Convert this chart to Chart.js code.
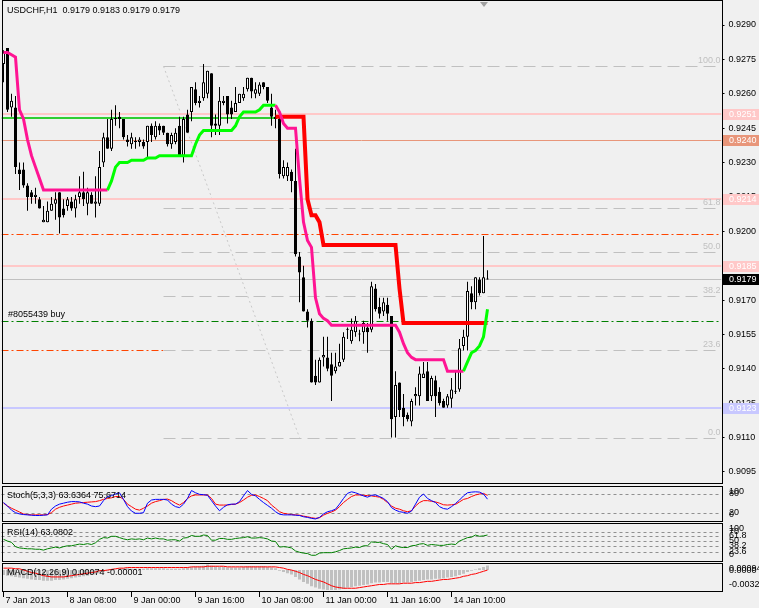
<!DOCTYPE html>
<html>
<head>
<meta charset="utf-8">
<script src="https://cdn.jsdelivr.net/npm/chart.js@4.4.1/dist/chart.umd.min.js"></script>
<style>
html, body { margin: 0; padding: 0; background: #f0f0f0; }
#wrap { position: relative; width: 759px; height: 608px; overflow: hidden; background: #f0f0f0; }
canvas { position: absolute; left: 0; }
</style>
</head>
<body>
<div id="wrap">
  <canvas id="main" width="759" height="485" style="top:0px"></canvas>
  <canvas id="stoch" width="759" height="38" style="top:485px"></canvas>
  <canvas id="rsi" width="759" height="41" style="top:522px"></canvas>
  <canvas id="macd" width="759" height="46" style="top:562px"></canvas>
</div>
<script>
// USDCHF H1, 122 bars, plus empty shift space on the right
const symbolTitle = 'USDCHF,H1  0.9179 0.9183 0.9179 0.9179';

const open = [0.9273,0.9280,0.9254,0.9254,0.9227,0.9227,0.9220,0.9217,0.9215,0.9214,
  0.9204,0.9204,0.9209,0.9212,0.9217,0.9210,0.9211,0.9213,0.9210,0.9215,
  0.9217,0.9212,0.9216,0.9212,0.9212,0.9230,0.9241,0.9236,0.9249,0.9250,
  0.9249,0.9240,0.9238,0.9239,0.9239,0.9239,0.9239,0.9246,0.9241,0.9246,
  0.9246,0.9243,0.9238,0.9239,0.9246,0.9233,0.9251,0.9252,0.9262,0.9256,
  0.9258,0.9260,0.9269,0.9247,0.9246,0.9256,0.9259,0.9254,0.9252,0.9256,
  0.9258,0.9262,0.9267,0.9260,0.9260,0.9265,0.9263,0.9254,0.9250,0.9249,
  0.9224,0.9224,0.9226,0.9222,0.9189,0.9180,0.9165,0.9161,0.9137,0.9134,
  0.9145,0.9145,0.9142,0.9139,0.9141,0.9144,0.9157,0.9152,0.9156,0.9155,
  0.9156,0.9158,0.9157,0.9175,0.9167,0.9165,0.9168,0.9163,0.9119,0.9134,
  0.9123,0.9120,0.9117,0.9128,0.9128,0.9136,0.9139,0.9128,0.9135,0.9130,
  0.9126,0.9124,0.9127,0.9130,0.9131,0.9150,0.9154,0.9173,0.9169,0.9179,
  0.9173,0.9179];
const high = [0.9279,0.9280,0.9260,0.9259,0.9230,0.9230,0.9221,0.9218,0.9219,0.9215,
  0.9211,0.9213,0.9215,0.9217,0.9217,0.9214,0.9215,0.9215,0.9216,0.9224,
  0.9226,0.9219,0.9217,0.9224,0.9235,0.9243,0.9249,0.9253,0.9255,0.9252,
  0.9249,0.9242,0.9243,0.9241,0.9241,0.9240,0.9246,0.9247,0.9248,0.9247,
  0.9246,0.9243,0.9243,0.9245,0.9250,0.9250,0.9253,0.9263,0.9265,0.9259,
  0.9273,0.9270,0.9269,0.9251,0.9263,0.9259,0.9259,0.9257,0.9263,0.9260,
  0.9263,0.9267,0.9267,0.9265,0.9265,0.9265,0.9263,0.9260,0.9253,0.9250,
  0.9231,0.9230,0.9227,0.9236,0.9191,0.9185,0.9166,0.9162,0.9144,0.9145,
  0.9154,0.9154,0.9147,0.9147,0.9151,0.9156,0.9158,0.9162,0.9163,0.9157,
  0.9161,0.9160,0.9178,0.9177,0.9171,0.9171,0.9171,0.9163,0.9139,0.9134,
  0.9129,0.9121,0.9127,0.9132,0.9141,0.9143,0.9143,0.9137,0.9137,0.9132,
  0.9127,0.9129,0.9136,0.9139,0.9153,0.9157,0.9178,0.9176,0.9180,0.9180,
  0.9198,0.9183];
const low = [0.9265,0.9252,0.9250,0.9225,0.9218,0.9219,0.9209,0.9212,0.9212,0.9210,
  0.9204,0.9204,0.9209,0.9205,0.9199,0.9206,0.9209,0.9209,0.9206,0.9212,
  0.9211,0.9207,0.9212,0.9206,0.9211,0.9228,0.9236,0.9235,0.9246,0.9245,
  0.9240,0.9237,0.9236,0.9236,0.9237,0.9236,0.9232,0.9239,0.9240,0.9242,
  0.9242,0.9237,0.9236,0.9238,0.9233,0.9230,0.9243,0.9248,0.9255,0.9254,
  0.9257,0.9258,0.9241,0.9242,0.9242,0.9255,0.9247,0.9249,0.9252,0.9256,
  0.9257,0.9261,0.9258,0.9258,0.9259,0.9262,0.9256,0.9246,0.9245,0.9223,
  0.9223,0.9222,0.9217,0.9189,0.9169,0.9165,0.9158,0.9134,0.9133,0.9134,
  0.9141,0.9139,0.9126,0.9138,0.9141,0.9143,0.9153,0.9151,0.9154,0.9152,
  0.9151,0.9147,0.9156,0.9165,0.9162,0.9163,0.9161,0.9110,0.9110,0.9119,
  0.9115,0.9117,0.9115,0.9124,0.9124,0.9136,0.9126,0.9126,0.9119,0.9124,
  0.9123,0.9123,0.9123,0.9129,0.9130,0.9148,0.9148,0.9166,0.9166,0.9172,
  0.9173,0.9179];
const close = [0.9278,0.9253,0.9257,0.9228,0.9225,0.9220,0.9215,0.9215,0.9216,0.9210,
  0.9205,0.9209,0.9212,0.9214,0.9206,0.9207,0.9214,0.9210,0.9214,0.9217,
  0.9214,0.9217,0.9212,0.9213,0.9228,0.9241,0.9236,0.9249,0.9249,0.9249,
  0.9241,0.9239,0.9241,0.9239,0.9240,0.9237,0.9246,0.9242,0.9246,0.9244,
  0.9243,0.9238,0.9242,0.9243,0.9233,0.9249,0.9243,0.9263,0.9256,0.9257,
  0.9265,0.9270,0.9246,0.9246,0.9257,0.9257,0.9251,0.9251,0.9256,0.9260,
  0.9260,0.9267,0.9261,0.9262,0.9264,0.9263,0.9257,0.9250,0.9249,0.9225,
  0.9228,0.9228,0.9222,0.9190,0.9182,0.9165,0.9161,0.9134,0.9134,0.9144,
  0.9146,0.9140,0.9137,0.9141,0.9143,0.9154,0.9157,0.9157,0.9161,0.9155,
  0.9160,0.9156,0.9176,0.9166,0.9164,0.9169,0.9164,0.9118,0.9133,0.9122,
  0.9119,0.9118,0.9126,0.9129,0.9138,0.9138,0.9126,0.9136,0.9128,0.9125,
  0.9123,0.9128,0.9131,0.9130,0.9149,0.9154,0.9174,0.9169,0.9180,0.9173,
  0.9180,0.9179];

// trailing stop (magenta above price, green below)
const trailStop = [0.9278,0.9278,0.9277,0.9276,0.9253,0.9249,0.9240,0.9233,0.9228,0.9223,
  0.9218,0.9218,0.9218,0.9218,0.9218,0.9218,0.9218,0.9218,0.9218,0.9218,
  0.9218,0.9218,0.9218,0.9218,0.9218,0.9218,0.9218,0.9222,0.9228,0.9230,
  0.9230,0.9230,0.9231,0.9231,0.9231,0.9231,0.9232,0.9232,0.9232,0.9233,
  0.9233,0.9233,0.9233,0.9233,0.9233,0.9233,0.9233,0.9233,0.9238,0.9242,
  0.9244,0.9244,0.9244,0.9244,0.9244,0.9244,0.9244,0.9244,0.9246,0.9250,
  0.9252,0.9252,0.9252,0.9252,0.9253,0.9255,0.9255,0.9255,0.9255,0.9252,
  0.9247,0.9245,0.9245,0.9245,0.9223,0.9204,0.9196,0.9193,0.9171,0.9164,
  0.9162,0.9161,0.9159,0.9159,0.9159,0.9159,0.9159,0.9159,0.9159,0.9159,
  0.9159,0.9159,0.9159,0.9159,0.9159,0.9159,0.9159,0.9159,0.9159,0.9156,
  0.9151,0.9147,0.9145,0.9144,0.9144,0.9144,0.9144,0.9144,0.9144,0.9144,
  0.9144,0.9139,0.9139,0.9139,0.9139,0.9139,0.9143,0.9147,0.9148,0.9150,
  0.9154,0.9166];
const trailUpRanges = [[26, 68], [115, 121]];

const redStop = [null,null,null,null,null,null,null,null,null,null,
  null,null,null,null,null,null,null,null,null,null,
  null,null,null,null,null,null,null,null,null,null,
  null,null,null,null,null,null,null,null,null,null,
  null,null,null,null,null,null,null,null,null,null,
  null,null,null,null,null,null,null,null,null,null,
  null,null,null,null,null,null,null,null,0.9250,0.9250,
  0.9250,0.9250,0.9250,0.9250,0.9250,0.9250,0.9214,0.9207,0.9207,0.9204,
  0.9194,0.9194,0.9194,0.9194,0.9194,0.9194,0.9194,0.9194,0.9194,0.9194,
  0.9194,0.9194,0.9194,0.9194,0.9194,0.9194,0.9194,0.9194,0.9194,0.9175,
  0.9160,0.9160,0.9160,0.9160,0.9160,0.9160,0.9160,0.9160,0.9160,0.9160,
  0.9160,0.9160,0.9160,0.9160,0.9160,0.9160,0.9160,0.9160,0.9160,0.9160,
  0.9160,0.9160];

const stochMain = [53,42,29,21,17,15,14,13,12,12, 13,14,32,42,48,51,54,56,56,55,
  51,48,42,40,42,59,72,75,80,84, 63,40,26,19,19,21,51,61,63,63,
  63,61,48,40,37,48,66,91,84,79, 78,76,59,42,27,38,46,48,48,56,
  74,91,79,74,63,53,44,35,24,16, 14,14,14,13,12,8,6,3,1,6,
  17,24,27,32,48,66,82,87,84,79, 74,70,76,77,72,66,56,37,29,24,
  22,19,26,48,70,80,66,59,53,40, 34,32,40,50,61,74,84,86,87,86,
  80,63.64];
const stochSignal = [51,42,35,29,23,17,15,14,14,14, 14,15,21,32,38,42,45,48,51,52,
  53,54,55,56,59,63,66,68,72,72, 63,48,40,32,29,35,42,51,56,59,
  63,64,59,51,45,53,66,74,77,77, 77,77,66,48,45,45,45,47,48,53,
  61,70,76,77,72,66,59,45,35,24, 19,17,15,14,13,10,8,5,3,5,
  13,19,23,29,40,53,63,72,77,77, 76,75,74,72,70,63,53,42,35,32,
  27,24,27,42,53,59,59,57,55,51, 46,45,46,47,55,63,66,72,77,80,
  82,75.67];
const stochLevels = [80, 20];
const stochTickLabels = [100, 80, 20, 0];

const rsi = [53,49,46,36,33,32,31,31,30,30, 28,31,33,35,33,36,38,38,40,42,
  41,43,41,45,53,57,56,60,60,57, 54,52,54,53,54,52,56,54,56,54,
  54,51,52,52,49,56,57,62,60,60, 63,62,51,51,55,55,53,53,55,56,
  57,59,56,56,57,56,54,49,48,35, 36,35,33,26,23,21,20,16,16,21,
  22,22,22,24,27,31,32,33,35,34, 38,38,47,46,46,43,41,30,38,35,
  34,34,38,39,42,43,39,41,40,39, 39,41,42,41,49,53,57,58,63,60,
  61,63.08];
const rsiLevels = [70, 61.8, 50, 38.2, 23.6];
const rsiTickLabels = [100, 70, 61.8, 50, 38.2, 23.6, 0];

const macdMain = [-0.0008,-0.0009,-0.0010,-0.0011,
  -0.0012,-0.0013,-0.0014,-0.0015,-0.0016,-0.0016,-0.0017,-0.0017,-0.0017,
  -0.0016,-0.0016,-0.0015,-0.0014,-0.0013,-0.0012,-0.0011,-0.0010,
  -0.0009,-0.0008,-0.0007,-0.0005,-0.0003,-0.0002,-0.0001,0.0001,
  0.0002,0.0003,0.0003,0.0002,0.0002,0.0002,0.0002,0.0003,0.0003,0.0003,0.0003,0.0003,
  0.0002,0.0002,0.0002,0.0002,0.0003,0.0004,0.0005,0.0006,0.0006,0.0007,0.0009,0.0007,
  0.0006,0.0005,0.0005,0.0004,0.0004,0.0004,0.0004,0.0005,0.0006,0.0006,0.0006,0.0006,0.0006,0.0005,0.0004,0.0003,
  -0.0001,-0.0003,-0.0005,-0.0007,-0.0011,-0.0015,-0.0019,-0.0022,-0.0026,-0.0028,-0.0030,-0.0031,
  -0.0032,-0.0032,-0.0032,-0.0031,-0.0030,-0.0028,-0.0027,-0.0026,-0.0025,-0.0024,-0.0023,-0.0021,-0.0020,-0.0020,-0.0019,
  -0.0019,-0.0021,-0.0021,-0.0021,-0.0020,-0.0020,-0.0019,-0.0018,-0.0017,-0.0016,-0.0015,-0.0015,-0.0014,-0.0014,-0.0013,-0.0012,
  -0.0011,-0.0010,-0.0008,-0.0006,-0.0003,-0.0001,0.0001,0.0003,0.0005,0.00074];
const macdSignal = [0.0003,0.0003,0.0003,0.0002,0.0002,
  0.0000,-0.0002,-0.0004,-0.0005,
  -0.0007,-0.0009,-0.0010,-0.0011,
  -0.0011,-0.0011,-0.0011,-0.0010,
  -0.0009,-0.0008,-0.0007,-0.0006,
  -0.0005,-0.0004,-0.0003,-0.0001,
  -0.0001,0.0000,0.0001,0.0002,0.0003,
  0.0003,0.0004,0.0004,0.0004,0.0004,0.0004,
  0.0004,0.0004,0.0004,0.0004,0.0004,0.0004,0.0004,0.0004,0.0004,0.0004,
  0.0004,0.0005,0.0005,0.0005,0.0005,0.0006,0.0006,0.0006,0.0006,0.0006,
  0.0005,0.0005,0.0005,0.0005,0.0005,0.0005,0.0005,0.0005,0.0005,0.0005,
  0.0005,0.0005,0.0005,
  0.0004,0.0003,0.0001,0.0000,-0.0002,-0.0004,-0.0007,-0.0009,-0.0012,-0.0015,-0.0017,-0.0019,
  -0.0022,-0.0025,-0.0027,-0.0028,-0.0029,-0.0029,-0.0029,-0.0029,-0.0028,-0.0027,-0.0026,-0.0025,
  -0.0024,-0.0023,-0.0023,
  -0.0022,-0.0022,-0.0022,-0.0022,-0.0021,-0.0021,-0.0021,-0.0020,-0.0020,-0.0019,-0.0018,-0.0018,
  -0.0017,-0.0016,-0.0015,-0.0015,-0.0014,-0.0013,-0.0012,-0.0010,-0.0009,-0.0007,-0.0006,-0.0004,
  -0.0002,-0.00001];
const macdTickValues = [0.00094, 0, -0.0032];
const macdTickLabels = ['0.00094', '0.0000', '-0.0032'];

// price axis and time axis labels
const priceTicks = [0.9290,0.9275,0.9260,0.9245,0.9230,0.9215,0.9200,0.9185,0.9170,0.9155,0.9140,0.9125,0.9110,0.9095];
const timeTickBars = [0, 16, 32, 48, 64, 80, 96, 112];
const timeTickLabels = ['7 Jan 2013','8 Jan 08:00','9 Jan 00:00','9 Jan 16:00','10 Jan 08:00','11 Jan 00:00','11 Jan 16:00','14 Jan 10:00'];

// chart objects
const pinkLevels = [0.9251, 0.9214, 0.9185];
const salmonLevel = 0.9240;
const blueLevel = 0.9123;
const stopLevels = [0.9199, 0.91482];
const buyLevel = 0.9161;
const buyLabel = '#8055439 buy';
const bidPrice = 0.9179;
const oldStopLevel = 0.92495, oldStopEndBar = 68;
const fibHigh = 0.9272, fibLow = 0.9110, fibStartBar = 40, fibEndBar = 74;
const fibRatios = [100, 61.8, 50, 38.2, 23.6, 0];
const boxPrices = [0.9251, 0.9240, 0.9214, 0.9185, 0.9123, 0.9179];
const boxColors = ['#ffc8c8', '#e8967a', '#ffc8c8', '#ffc8c8', '#c8c8ff', '#000000'];

const slotCount = 180;
const slots = Array.from({length: slotCount}, (_, i) => i);

const FONT = '9px "Liberation Sans", Arial, sans-serif';
const AXIS_W = 37.5;

function xAxis() {
  return { type: 'category', labels: slots, offset: true, display: false };
}

function hline(ctx, y, x0, x1, color, width, dash) {
  ctx.save();
  ctx.beginPath();
  ctx.setLineDash(dash || []);
  ctx.strokeStyle = color;
  ctx.lineWidth = width;
  const yy = width % 2 ? Math.round(y) + 0.5 : Math.round(y);
  ctx.moveTo(x0, yy);
  ctx.lineTo(x1, yy);
  ctx.stroke();
  ctx.restore();
}

function frame(chart) {
  const { ctx, chartArea: a } = chart;
  ctx.save();
  ctx.strokeStyle = '#000';
  ctx.lineWidth = 1;
  ctx.strokeRect(2.5, Math.round(a.top) - 0.5, 720, Math.round(a.bottom - a.top) + 1);
  ctx.restore();
}

function text(ctx, s, x, y, color, align) {
  ctx.save();
  ctx.font = FONT;
  ctx.fillStyle = color || '#000';
  ctx.textAlign = align || 'left';
  ctx.textBaseline = 'middle';
  ctx.fillText(s, x, y);
  ctx.restore();
}

function sideLabels(chart, values, labels) {
  const { ctx, chartArea: a } = chart;
  const ys = chart.scales.y;
  values.forEach((v, i) => {
    let y = ys.getPixelForValue(v);
    y = Math.max(a.top + 5, Math.min(a.bottom - 6, y));
    text(ctx, labels ? labels[i] : String(v), 729, y);
  });
}

const baseOpts = {
  responsive: false,
  animation: false,
  events: [],
  plugins: { legend: { display: false }, tooltip: { enabled: false } }
};

// ---------- main price chart ----------
const isUp = i => trailUpRanges.some(r => i >= r[0] && i < r[1]);

const mainOverlay = {
  id: 'mainOverlay',
  beforeDatasetsDraw(chart) {
    const { ctx, chartArea: a } = chart;
    const y = v => chart.scales.y.getPixelForValue(v);
    const x = i => chart.scales.x.getPixelForValue(i);
    ctx.save();
    ctx.beginPath();
    ctx.rect(a.left, a.top, a.right - a.left, a.bottom - a.top);
    ctx.clip();
    stopLevels.forEach(p => hline(ctx, y(p), a.left, a.right, '#ff4500', 1, [7, 3, 2, 3]));
    hline(ctx, y(buyLevel), a.left, a.right, '#008000', 1, [7, 3, 2, 3]);
    // fibonacci retracement (dashes painted on opaque background like the terminal does)
    fibRatios.forEach(r => {
      const py = y(fibLow + (fibHigh - fibLow) * r / 100);
      hline(ctx, py, x(fibStartBar), a.right, '#f0f0f0', 1);
      hline(ctx, py, x(fibStartBar), a.right, '#c0c0c0', 1, [12, 6]);
    });
    ctx.beginPath();
    ctx.setLineDash([2, 3]);
    ctx.strokeStyle = '#c8c8c8';
    ctx.lineWidth = 1;
    ctx.moveTo(x(fibStartBar), y(fibHigh));
    ctx.lineTo(x(fibEndBar), y(fibLow));
    ctx.stroke();
    ctx.setLineDash([]);
    hline(ctx, y(bidPrice), a.left, a.right, '#c0c0c0', 1);
    hline(ctx, y(salmonLevel), a.left, a.right, '#e8967a', 1);
    pinkLevels.forEach(p => hline(ctx, y(p), a.left, a.right, '#ffc8c8', 2));
    hline(ctx, y(blueLevel), a.left, a.right, '#c8c8ff', 2);
    hline(ctx, y(oldStopLevel), a.left, x(oldStopEndBar), '#32cd32', 2);
    ctx.restore();
  },
  afterDraw(chart) {
    const { ctx, chartArea: a } = chart;
    const y = v => chart.scales.y.getPixelForValue(v);
    frame(chart);
    text(ctx, symbolTitle, 7, 11);
    text(ctx, buyLabel, 8, y(buyLevel) - 6);
    fibRatios.forEach(r => {
      const py = Math.round(y(fibLow + (fibHigh - fibLow) * r / 100));
      text(ctx, r.toFixed(1), a.right - 1, py - 5, '#c0c0c0', 'right');
    });
    boxPrices.forEach((p, i) => {
      const py = Math.round(y(p));
      ctx.fillStyle = boxColors[i];
      ctx.fillRect(723, py - 5, 36, 11);
      text(ctx, p.toFixed(4), 729, py + 0.5, '#ffffff');
    });
    // chart shift marker
    const sx = 484;
    ctx.fillStyle = '#a0a0a0';
    ctx.beginPath();
    ctx.moveTo(sx - 4, 2); ctx.lineTo(sx + 4, 2); ctx.lineTo(sx, 7); ctx.closePath();
    ctx.fill();
  }
};

new Chart(document.getElementById('main'), {
  type: 'bar',
  data: {
    labels: slots,
    datasets: [
      {
        type: 'line', data: trailStop, order: 1,
        borderColor: '#ff1493', borderWidth: 3, pointRadius: 0,
        segment: { borderColor: c => isUp(c.p0DataIndex) ? '#00ff00' : '#ff1493' }
      },
      {
        type: 'line', data: redStop, order: 2,
        borderColor: '#ff0000', borderWidth: 4, pointRadius: 0, spanGaps: false
      },
      {
        type: 'bar', order: 4,
        data: open.map((o, i) => [o, close[i]]),
        backgroundColor: open.map((o, i) => close[i] >= o ? '#ffffff' : '#000000'),
        borderColor: '#000000', borderWidth: 1, borderSkipped: false,
        barThickness: 3, grouped: false, minBarLength: 1, inflateAmount: 0
      },
      {
        type: 'bar', order: 5,
        data: low.map((l, i) => [l, high[i]]),
        backgroundColor: '#000000', barThickness: 1, grouped: false, inflateAmount: 0
      }
    ]
  },
  options: Object.assign({}, baseOpts, {
    layout: { padding: { left: 1.5, right: 0, top: 1, bottom: 2 } },
    scales: {
      x: xAxis(),
      y: {
        position: 'right', min: 0.909020, max: 0.930047,
        afterBuildTicks: s => { s.ticks = priceTicks.map(v => ({ value: v })); },
        afterFit: s => { s.width = AXIS_W; s.paddingTop = 0; s.paddingBottom = 0; },
        border: { display: false },
        grid: { drawOnChartArea: false, color: '#000', tickLength: 3 },
        ticks: {
          color: '#000', padding: 4, autoSkip: false,
          font: { family: '"Liberation Sans", Arial, sans-serif', size: 9 },
          callback: v => Number(v).toFixed(4)
        }
      }
    }
  }),
  plugins: [mainOverlay]
});

// ---------- stochastic ----------
function subOptions(min, max, padBottom) {
  return Object.assign({}, baseOpts, {
    layout: { padding: { left: 1.5, right: AXIS_W, top: 2, bottom: padBottom } },
    scales: { x: xAxis(), y: { display: false, min: min, max: max } }
  });
}

function levelPlugin(id, levels, title, tickValues, tickLabels, extra) {
  return {
    id: id,
    beforeDatasetsDraw(chart) {
      const { ctx, chartArea: a } = chart;
      levels.forEach(v => hline(ctx, chart.scales.y.getPixelForValue(v), a.left, a.right, '#909090', 1, [3, 3]));
    },
    afterDraw(chart) {
      const { ctx, chartArea: a } = chart;
      frame(chart);
      text(ctx, title, 7, a.top + 9);
      sideLabels(chart, tickValues, tickLabels);
      if (extra) extra(chart);
    }
  };
}

new Chart(document.getElementById('stoch'), {
  type: 'line',
  data: {
    labels: slots,
    datasets: [
      { data: stochMain, borderColor: '#0000ff', borderWidth: 1, pointRadius: 0 },
      { data: stochSignal, borderColor: '#ff0000', borderWidth: 1, pointRadius: 0 }
    ]
  },
  options: subOptions(-5.4, 102.2, 2),
  plugins: [levelPlugin('stochLv', stochLevels, 'Stoch(5,3,3) 63.6364 75.6714', stochTickLabels)]
});

// ---------- RSI ----------
new Chart(document.getElementById('rsi'), {
  type: 'line',
  data: {
    labels: slots,
    datasets: [{ data: rsi, borderColor: '#008000', borderWidth: 1, pointRadius: 0 }]
  },
  options: subOptions(2.7, 88.6, 2),
  plugins: [levelPlugin('rsiLv', rsiLevels, 'RSI(14) 63.0802', rsiTickLabels)]
});

// ---------- MACD + time axis ----------
function timeAxis(chart) {
  const { ctx, chartArea: a } = chart;
  const xs = chart.scales.x;
  ctx.save();
  ctx.strokeStyle = '#000';
  ctx.lineWidth = 1;
  timeTickBars.forEach((b, i) => {
    const px = Math.floor(xs.getPixelForValue(b)) + 0.5;
    ctx.beginPath();
    ctx.moveTo(px, a.bottom + 1);
    ctx.lineTo(px, a.bottom + 6);
    ctx.stroke();
    text(ctx, timeTickLabels[i], px + 2, a.bottom + 10);
  });
  ctx.restore();
}

new Chart(document.getElementById('macd'), {
  type: 'bar',
  data: {
    labels: slots,
    datasets: [
      { type: 'line', data: macdSignal, order: 1, borderColor: '#ff0000', borderWidth: 1, pointRadius: 0 },
      { type: 'bar', data: macdMain, order: 2, backgroundColor: '#c0c0c0', barThickness: 3, inflateAmount: 0 }
    ]
  },
  options: subOptions(-0.00334, 0.00096, 17),
  plugins: [levelPlugin('macdLv', [], 'MACD(12,26,9) 0.00074 -0.00001', macdTickValues, macdTickLabels, timeAxis)]
});
</script>
</body>
</html>
